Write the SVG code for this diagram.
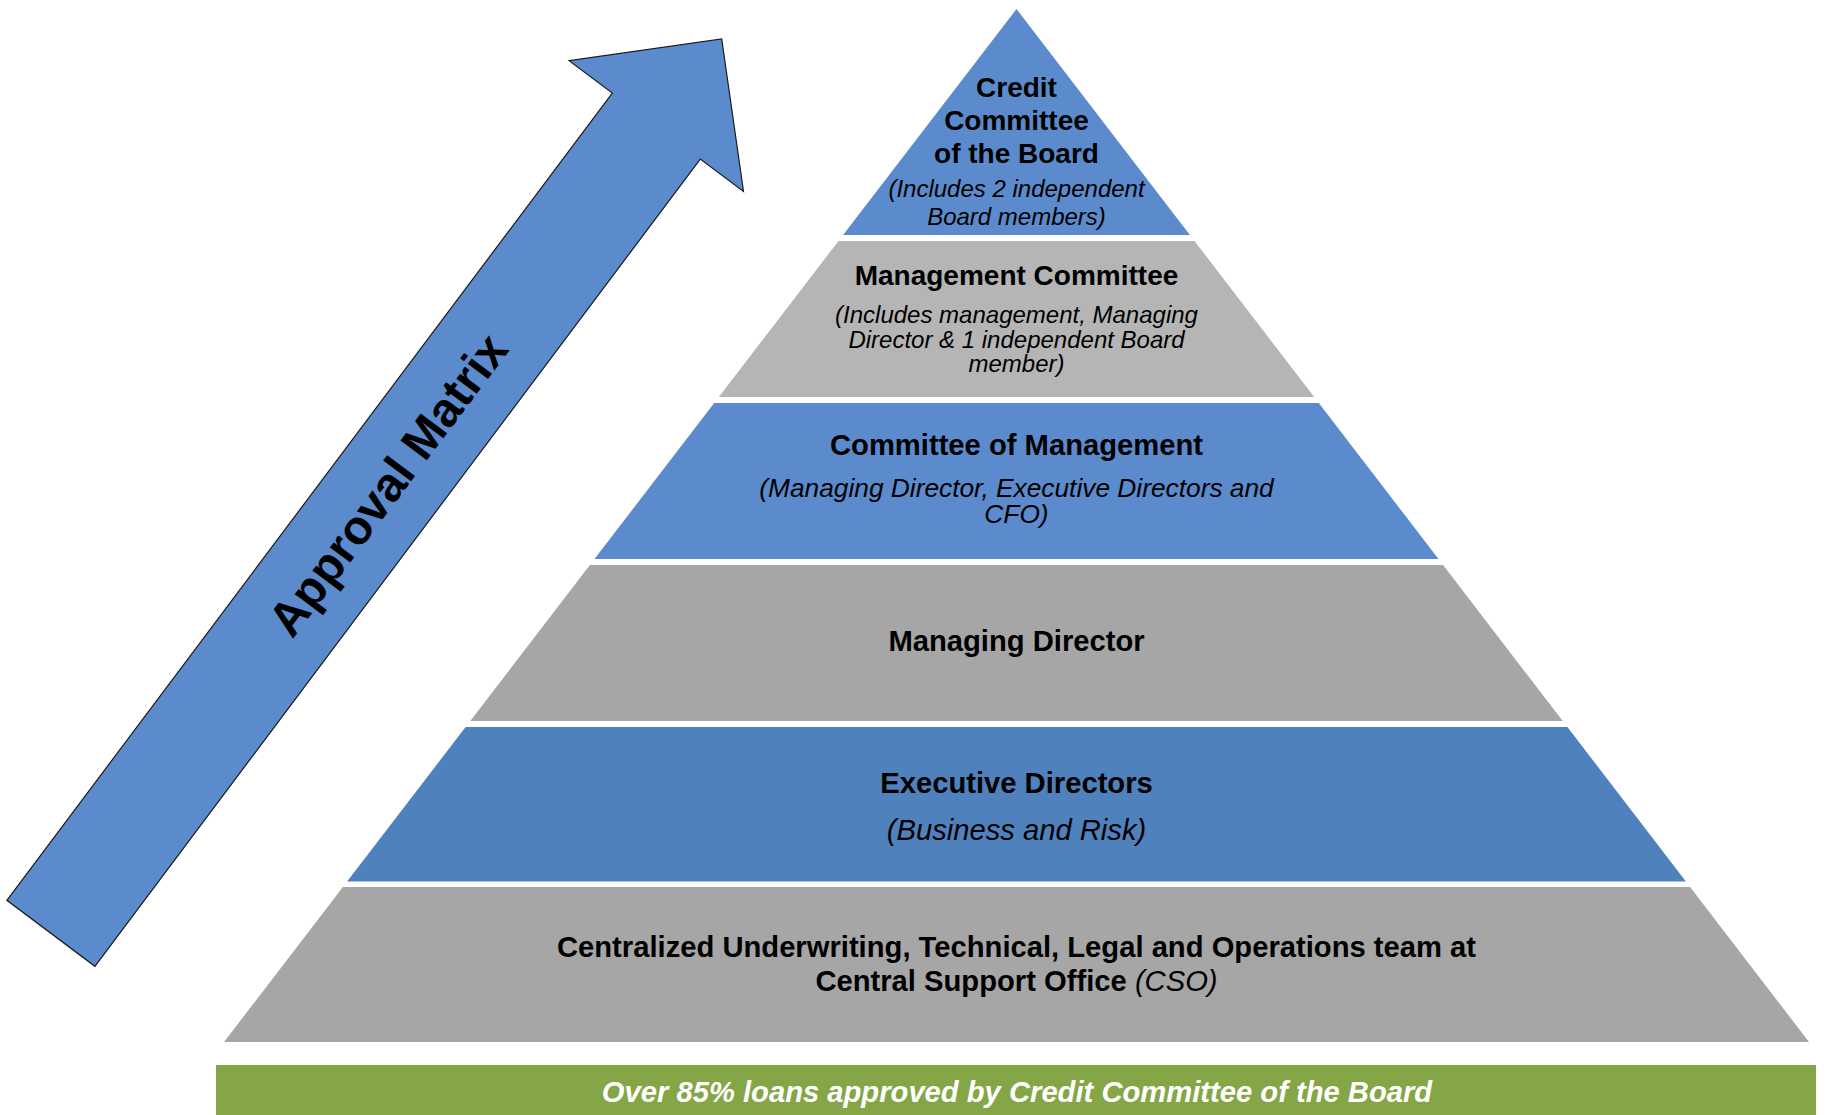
<svg xmlns="http://www.w3.org/2000/svg" width="1826" height="1115" viewBox="0 0 1826 1115">
  <style>
    text { font-family: "Liberation Sans", Arial, sans-serif; fill: #000; text-anchor: middle; }
    .b28 { font-weight: bold; font-size: 28px; }
    .b29 { font-weight: bold; font-size: 29.2px; }
    .i23 { font-style: italic; font-size: 23px; }
    .i24 { font-style: italic; font-size: 24px; }
    .i26 { font-style: italic; font-size: 26.3px; }
    .i29 { font-style: italic; font-size: 29.2px; }
    .blue { fill: #5B8BCC; }
    .blue2 { fill: #4F81BD; }
    .gray1 { fill: #B5B5B5; }
    .gray2 { fill: #A6A6A6; }
    .green { fill: #84A646; }
    .banner { font-weight: bold; font-style: italic; font-size: 29.2px; fill: #FFFFFF; }
    .arrowtxt { font-weight: bold; font-size: 48px; }
  </style>

  <rect x="0" y="0" width="1826" height="1115" fill="#FFFFFF"/>

  <g id="approval-arrow">
    <polygon points="6.9,900.3 612.3,93.1 569.1,60.7 721.7,38.9 743.5,191.5 700.3,159.1 94.9,966.3" class="blue" stroke="#1A1A1A" stroke-width="1.2" stroke-linejoin="miter"/>
    <g transform="translate(50.9 933.3) rotate(-53.13)">
      <text class="arrowtxt" x="561" y="17">Approval Matrix</text>
    </g>
  </g>

  <g id="tier-credit-committee">
    <polygon points="1016.5,9 1189.9,235 843.1,235" class="blue"/>
    <text class="b28" x="1016.5" y="96.7">Credit</text>
    <text class="b28" x="1016.5" y="130">Committee</text>
    <text class="b28" x="1016.5" y="163.3">of the Board</text>
    <text class="i24" x="1016.5" y="197">(Includes 2 independent</text>
    <text class="i24" x="1016.5" y="225">Board members)</text>
  </g>

  <g id="tier-management-committee">
    <polygon points="838.5,241 1194.5,241 1314.2,397 718.8,397" class="gray1"/>
    <text class="b28" x="1016.5" y="285">Management Committee</text>
    <text class="i24" x="1016.5" y="323">(Includes management, Managing</text>
    <text class="i24" x="1016.5" y="347.5">Director &amp; 1 independent Board</text>
    <text class="i24" x="1016.5" y="372">member)</text>
  </g>

  <g id="tier-committee-of-management">
    <polygon points="714.2,403 1318.8,403 1438.5,559 594.5,559" class="blue"/>
    <text class="b29" x="1016.5" y="455">Committee of Management</text>
    <text class="i26" x="1016.5" y="496.7">(Managing Director, Executive Directors and</text>
    <text class="i26" x="1016.5" y="523.3">CFO)</text>
  </g>

  <g id="tier-managing-director">
    <polygon points="589.9,565 1443.1,565 1562.7,721 470.3,721" class="gray2"/>
    <text class="b29" x="1016.5" y="650.7">Managing Director</text>
  </g>

  <g id="tier-executive-directors">
    <polygon points="465.6,727 1567.4,727 1685.9,881.5 347.1,881.5" class="blue2"/>
    <text class="b29" x="1016.5" y="792.7">Executive Directors</text>
    <text class="i29" x="1016.5" y="840">(Business and Risk)</text>
  </g>

  <g id="tier-central-support-office">
    <polygon points="342.9,887 1690.1,887 1809,1042 224,1042" class="gray2"/>
    <text class="b29" x="1016.5" y="957.3">Centralized Underwriting, Technical, Legal and Operations team at</text>
    <text x="1016.5" y="990.7"><tspan class="b29">Central Support Office </tspan><tspan class="i29">(CSO)</tspan></text>
  </g>

  <g id="banner">
    <rect x="216" y="1065" width="1600" height="50" class="green"/>
    <text class="banner" x="1017" y="1102">Over 85% loans approved by Credit Committee of the Board</text>
  </g>
</svg>
